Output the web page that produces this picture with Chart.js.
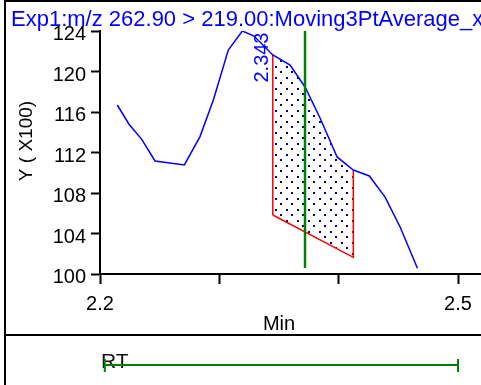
<!DOCTYPE html>
<html>
<head>
<meta charset="utf-8">
<script src="https://cdn.jsdelivr.net/npm/chart.js@4.4.1/dist/chart.umd.min.js"></script>
<style>
  body { margin: 0; background: #fff; }
  #wrap { width: 481px; height: 385px; }
</style>
</head>
<body>
<div id="wrap"><canvas id="chrom" width="481" height="385"></canvas></div>
<script>
var titleText = "Exp1:m/z 262.90 > 219.00:Moving3PtAverage_x";
var yTitle = "Y ( X100)";
var xTitle = "Min";

// chromatogram trace: time (min) / intensity (X100)
var rtTimes  = [2.2145, 2.2243, 2.2350, 2.2461, 2.2707, 2.2838, 2.2950, 2.3075, 2.3193, 2.3291,
                2.3448, 2.3593, 2.3718, 2.3844, 2.3987, 2.4123, 2.4257, 2.4389, 2.4515, 2.4660];
var rtValues = [116.69, 114.79, 113.30, 111.16, 110.77, 113.57, 117.19, 122.12, 124.00, 123.50,
                121.63, 120.64, 118.47, 115.41, 111.56, 110.27, 109.68, 107.60, 104.64, 100.56];

// integrated peak
var peakStart = 2.3448, peakEnd = 2.4123;
var peakBase = [105.83, 101.65];     // baseline value at start / end
var peakLabel = "2.343";
var peakLabelAt = [2.343, 121.38];

// retention time marker
var rtMark = 2.3718;
var rtMarkSpan = [100.6, 124];
var rtRange = [2.204, 2.5];          // RT bar in bottom panel

var xTicks = [2.2, 2.3, 2.4, 2.5];
var xTickLabels = ["2.2", "", "", "2.5"];
var yTicks = [100, 104, 108, 112, 116, 120, 124];

var FONT = "'Liberation Sans', Arial, sans-serif";
Chart.defaults.font.family = FONT;
Chart.defaults.font.size = 20;
Chart.defaults.color = '#000';

// dotted fill
function dotPattern(ctx) {
  var c = document.createElement('canvas');
  c.width = 11; c.height = 11;
  var g = c.getContext('2d');
  g.fillStyle = '#000080';
  g.fillRect(0, 0, 2, 2);
  g.fillRect(5, 5, 2, 2);
  return ctx.createPattern(c, 'repeat');
}

var curve = rtTimes.map(function (t, i) { return {x: t, y: rtValues[i]}; });

var peakPts = [{x: peakStart, y: peakBase[0]}];
rtTimes.forEach(function (t, i) {
  if (t >= peakStart - 1e-9 && t <= peakEnd + 1e-9) peakPts.push({x: t, y: rtValues[i]});
});
peakPts.push({x: peakEnd, y: peakBase[1]});
peakPts.push({x: peakStart, y: peakBase[0]});
var nPeak = peakPts.length;

var markPts = [{x: rtMark, y: rtMarkSpan[0]}, {x: rtMark, y: rtMarkSpan[1]}];

var extras = {
  id: 'extras',
  beforeDraw: function (chart) {
    var ctx = chart.ctx;
    ctx.save();
    ctx.fillStyle = '#fff';
    ctx.fillRect(0, 0, chart.width, chart.height);
    ctx.restore();
  },
  // dotted area of the integrated peak, under its outline
  beforeDatasetDraw: function (chart, args) {
    if (args.meta.label !== 'peak') return;
    var ctx = chart.ctx, pts = args.meta.data;
    ctx.save();
    ctx.beginPath();
    pts.forEach(function (p, i) { if (i === 0) ctx.moveTo(p.x, p.y); else ctx.lineTo(p.x, p.y); });
    ctx.closePath();
    ctx.fillStyle = dotPattern(ctx);
    ctx.fill();
    ctx.restore();
  },
  afterDraw: function (chart) {
    var ctx = chart.ctx, xs = chart.scales.x, ys = chart.scales.y;
    ctx.save();
    // frame + panel separator
    ctx.strokeStyle = '#000';
    ctx.lineWidth = 2;
    ctx.beginPath();
    ctx.moveTo(5, chart.height); ctx.lineTo(5, 1); ctx.lineTo(chart.width, 1);
    ctx.moveTo(5, 335); ctx.lineTo(chart.width, 335);
    ctx.moveTo(xs.right, ys.bottom); ctx.lineTo(chart.width, ys.bottom);
    ctx.stroke();

    // title
    ctx.fillStyle = '#0000ff';
    ctx.font = '22px ' + FONT;
    ctx.textBaseline = 'alphabetic';
    ctx.textAlign = 'left';
    ctx.fillText(titleText, 11, 26);

    // peak label
    ctx.save();
    ctx.translate(xs.getPixelForValue(peakLabelAt[0]) - 2.5, ys.getPixelForValue(peakLabelAt[1]));
    ctx.rotate(-Math.PI / 2);
    ctx.textAlign = 'center';
    ctx.font = '20px ' + FONT;
    ctx.fillText(peakLabel, 0, 0);
    ctx.restore();

    // y title
    ctx.save();
    ctx.fillStyle = '#000';
    ctx.translate(31.5, 141);
    ctx.rotate(-Math.PI / 2);
    ctx.textAlign = 'center';
    ctx.font = '19px ' + FONT;
    ctx.fillText(yTitle, 0, 0);
    ctx.restore();

    // RT panel
    ctx.fillStyle = '#111';
    ctx.font = '21px ' + FONT;
    ctx.textAlign = 'left';
    ctx.fillText('RT', 101, 368);
    var x0 = xs.getPixelForValue(rtRange[0]), x1 = xs.getPixelForValue(rtRange[1]);
    ctx.strokeStyle = '#008000';
    ctx.lineWidth = 2;
    ctx.beginPath();
    ctx.moveTo(x0, 365); ctx.lineTo(x1, 365);
    ctx.moveTo(x0, 359); ctx.lineTo(x0, 372);
    ctx.moveTo(x1, 359); ctx.lineTo(x1, 372);
    ctx.stroke();
    ctx.restore();
  }
};

new Chart(document.getElementById('chrom'), {
  type: 'line',
  data: {
    datasets: [
      {
        label: 'RT',
        data: markPts,
        borderColor: '#008000',
        borderWidth: 2.5,
        pointRadius: 0,
        fill: false,
        order: 0
      },
      {
        label: 'trace',
        data: curve,
        borderColor: '#0000ff',
        borderWidth: 1.5,
        pointRadius: 0,
        tension: 0,
        fill: false,
        order: 1
      },
      {
        label: 'peak',
        data: peakPts,
        borderColor: '#ff0000',
        borderWidth: 1.5,
        pointRadius: 0,
        tension: 0,
        fill: false,
        segment: {
          borderColor: function (c) {
            return (c.p0DataIndex >= 1 && c.p0DataIndex <= nPeak - 4) ? 'rgba(0,0,0,0)' : '#ff0000';
          }
        },
        order: 2
      }
    ]
  },
  options: {
    responsive: false,
    animation: false,
    events: [],
    layout: { padding: { top: 31, right: 23, left: 0, bottom: 0 } },
    plugins: { legend: { display: false }, tooltip: { enabled: false } },
    scales: {
      x: {
        type: 'linear',
        min: 2.2,
        max: 2.5,
        afterBuildTicks: function (s) { s.ticks = xTicks.map(function (v) { return {value: v}; }); },
        afterFit: function (s) { s.height = 111; },
        ticks: {
          padding: 8,
          maxRotation: 0,
          callback: function (v, i) { return xTickLabels[i]; }
        },
        grid: { drawOnChartArea: false, tickLength: 10, tickColor: '#000', tickWidth: 2 },
        border: { color: '#000', width: 2 },
        title: { display: true, text: xTitle, padding: { top: 49, bottom: 49 } }
      },
      y: {
        min: 100,
        max: 124,
        afterBuildTicks: function (s) { s.ticks = yTicks.map(function (v) { return {value: v}; }); },
        afterFit: function (s) { s.width = 100; },
        ticks: { padding: 5, labelOffset: 3.5 },
        grid: { drawOnChartArea: false, tickLength: 9, tickColor: '#000', tickWidth: 2 },
        border: { color: '#000', width: 2 }
      }
    }
  },
  plugins: [extras]
});
</script>
</body>
</html>
